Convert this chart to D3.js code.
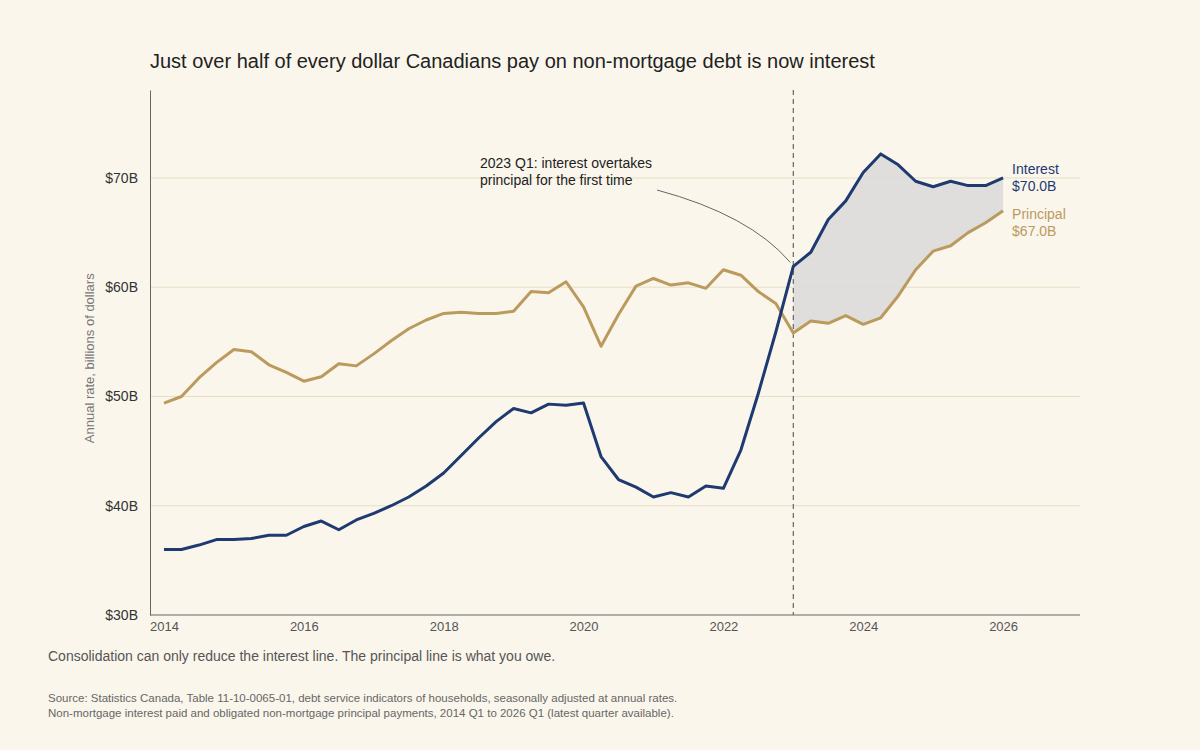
<!DOCTYPE html>
<html><head><meta charset="utf-8">
<script src="https://cdn.jsdelivr.net/npm/d3@7"></script>
<style>body{margin:0;background:#faf6ec}svg{display:block}</style>
</head><body><svg id="c"></svg>
<script>
// quarterly, 2014 Q1 .. 2026 Q1 (billions, annual rate)
const startYear = 2014
const interest = [36.0,36.0,36.4,36.9, 36.9,37.0,37.3,37.3, 38.1,38.6,37.8,38.7, 39.3,40.0,40.8,41.8,
  43.0,44.6,46.2,47.7, 48.9,48.5,49.3,49.2, 49.4,44.5,42.4,41.7, 40.8,41.2,40.8,41.8,
  41.6,45.1,50.3,55.9, 61.9,63.2,66.2,67.9, 70.5,72.2,71.2,69.7, 69.2,69.7,69.3,69.3, 70.0]
const principal = [49.4,50.0,51.7,53.1, 54.3,54.1,52.9,52.2, 51.4,51.8,53.0,52.8, 53.9,55.1,56.2,57.0,
  57.6,57.7,57.6,57.6, 57.8,59.6,59.5,60.5, 58.2,54.6,57.5,60.1, 60.8,60.2,60.4,59.9,
  61.6,61.1,59.6,58.5, 55.8,56.9,56.7,57.4, 56.6,57.2,59.2,61.6, 63.3,63.8,65.0,65.9, 67.0]
const yTicks = [30, 40, 50, 60, 70]
const xTicks = [2014, 2016, 2018, 2020, 2022, 2024, 2026]
const crossover = 2023

const W = 1200, H = 750
const FONT = "'Liberation Sans', Arial, sans-serif"
const svg = d3.select('#c').attr('width', W).attr('height', H)
svg.append('rect').attr('width', W).attr('height', H).attr('fill', '#faf6ec')

const x = d3.scaleLinear().domain([2013.8, 2027.1]).range([150, 1080])
const y = d3.scaleLinear().domain([30, 78.05]).range([615, 90])
const t = i => startYear + i / 4
const rows = interest.map((v, i) => ({ t: t(i), i: v, p: principal[i] }))

// title
svg.append('text').attr('x', 150).attr('y', 68).attr('font-family', FONT).attr('font-size', 20)
  .attr('fill', '#222').text('Just over half of every dollar Canadians pay on non-mortgage debt is now interest')

// gridlines
svg.append('g').selectAll('line').data(yTicks.slice(1)).join('line')
  .attr('x1', 150).attr('x2', 1080).attr('y1', d => y(d)).attr('y2', d => y(d))
  .attr('stroke', '#e6dfc4').attr('stroke-width', 1)

// axes
svg.append('g').attr('transform', 'translate(150,0)')
  .call(d3.axisLeft(y).tickValues(yTicks).tickSize(0).tickPadding(12).tickFormat(d => '$' + d + 'B'))
  .call(g => g.select('.domain').attr('stroke', '#666'))
  .call(g => g.selectAll('text').attr('font-family', FONT).attr('font-size', 14).attr('fill', '#333'))
svg.append('g').attr('transform', 'translate(0,615)')
  .call(d3.axisBottom(x).tickValues(xTicks).tickSize(0).tickPadding(7).tickFormat(d3.format('d')))
  .call(g => g.select('.domain').attr('stroke', '#666').attr('d', 'M150,0H1080'))
  .call(g => g.selectAll('text').attr('font-family', FONT).attr('font-size', 13).attr('fill', '#555'))

svg.append('text').attr('transform', `translate(94,${y(53.5)}) rotate(-90)`).attr('text-anchor', 'middle')
  .attr('font-family', FONT).attr('font-size', 13).attr('fill', '#777').text('Annual rate, billions of dollars')

// gap area after crossover
const gap = rows.filter(d => d.t >= crossover)
svg.append('path').datum(gap)
  .attr('d', d3.area().x(d => x(d.t)).y0(d => y(d.p)).y1(d => y(d.i)))
  .attr('fill', '#d9d9d9').attr('fill-opacity', 0.85)

// vertical dashed
svg.append('line').attr('x1', x(crossover)).attr('x2', x(crossover)).attr('y1', 90).attr('y2', 615)
  .attr('stroke', '#666').attr('stroke-dasharray', '5,4').attr('stroke-width', 1.2)

// lines
const line = k => d3.line().x(d => x(d.t)).y(d => y(d[k]))
svg.append('path').datum(rows).attr('d', line('p')).attr('fill', 'none')
  .attr('stroke', '#bb9a5e').attr('stroke-width', 3).attr('stroke-linejoin', 'round')
svg.append('path').datum(rows).attr('d', line('i')).attr('fill', 'none')
  .attr('stroke', '#1f3a70').attr('stroke-width', 3).attr('stroke-linejoin', 'round')

// end labels
const last = rows[rows.length - 1]
const endLabel = (v, col, name, dy) => {
  const tx = svg.append('text').attr('x', x(last.t) + 9).attr('y', y(v) + dy)
    .attr('font-family', FONT).attr('font-size', 14).attr('fill', col)
  tx.append('tspan').attr('x', x(last.t) + 9).text(name)
  tx.append('tspan').attr('x', x(last.t) + 9).attr('dy', 17).text('$' + v.toFixed(1) + 'B')
}
endLabel(last.i, '#1f3a70', 'Interest', -4)
endLabel(last.p, '#bb9a5e', 'Principal', 8)

// annotation
const cx = x(crossover), cy = y(interest[(crossover - startYear) * 4])
svg.append('path').attr('d', `M657,190 Q750,215 ${cx - 3},${cy - 4}`)
  .attr('fill', 'none').attr('stroke', '#666').attr('stroke-width', 1)
const ann = svg.append('text').attr('font-family', FONT).attr('font-size', 14).attr('fill', '#222')
ann.append('tspan').attr('x', 480).attr('y', 168).text('2023 Q1: interest overtakes')
ann.append('tspan').attr('x', 480).attr('y', 185).text('principal for the first time')

// notes
svg.append('text').attr('x', 48).attr('y', 661).attr('font-family', FONT).attr('font-size', 14).attr('fill', '#555')
  .text('Consolidation can only reduce the interest line. The principal line is what you owe.')
svg.append('text').attr('x', 48).attr('y', 702).attr('font-family', FONT).attr('font-size', 11.5).attr('fill', '#666')
  .text('Source: Statistics Canada, Table 11-10-0065-01, debt service indicators of households, seasonally adjusted at annual rates.')
svg.append('text').attr('x', 48).attr('y', 717).attr('font-family', FONT).attr('font-size', 11.5).attr('fill', '#666')
  .text('Non-mortgage interest paid and obligated non-mortgage principal payments, 2014 Q1 to 2026 Q1 (latest quarter available).')
</script></body></html>
